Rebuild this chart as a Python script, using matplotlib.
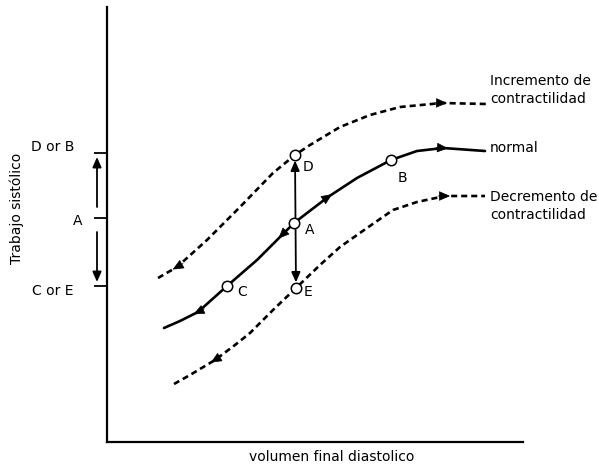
import numpy as np
import matplotlib.pyplot as plt
from matplotlib.patches import FancyArrowPatch

# curve points (arbitrary units)
normal_x = [57, 73, 91, 120, 150, 175, 187, 221, 250, 284, 310, 336, 378]
normal_y = [114, 121, 130, 156, 182, 207, 219, 245, 264, 282, 291, 294, 291]
upper_x = [51, 70, 100, 133, 166, 188, 203, 233, 263, 293, 335, 380]
upper_y = [164, 175, 202, 235, 269, 287, 297, 315, 327, 335, 339, 338]
lower_x = [67, 83, 108, 128, 143, 166, 189, 213, 233, 260, 286, 310, 338, 378]
lower_y = [58, 67, 82, 97, 109, 132, 154, 177, 195, 214, 232, 240, 246, 246]

# arrows on the curves: (index, direction)
normal_arrows = [(2, -1), (5, -1), (7, 1), (11, 1)]
upper_arrows = [(1, -1), (10, 1)]
lower_arrows = [(2, -1), (12, 1)]

# labelled points: name -> (curve, index)
points = {"C": ("normal", 3), "A": ("normal", 6), "B": ("normal", 9),
          "D": ("upper", 5), "E": ("lower", 6)}
point_label_off = {"C": (15, -6), "A": (16, -7), "B": (11, -18),
                   "D": (13, -12), "E": (12, -4)}

ytick_pos = [289, 224, 156]
ytick_labels = ["D or B", "A", "C or E"]
ytick_label_x = [-54, -29, -54]
ytick_label_dy = [6, -3, -5]

right_labels = ["Incremento de\ncontractilidad", "normal",
                "Decremento de\ncontractilidad"]
right_label_y = [352, 294, 236]

curves = {"normal": (normal_x, normal_y), "upper": (upper_x, upper_y),
          "lower": (lower_x, lower_y)}

fig = plt.figure(figsize=(5.99, 4.66), dpi=100)
ax = fig.add_axes([107/599, 24/466, 416/599, 435/466])
ax.set_xlim(0, 416)
ax.set_ylim(0, 435)
ax.spines['top'].set_visible(False)
ax.spines['right'].set_visible(False)
ax.spines['left'].set_linewidth(1.6)
ax.spines['bottom'].set_linewidth(1.6)
ax.set_xticks([])
ax.set_yticks(ytick_pos)
ax.set_yticklabels([])
ax.tick_params(axis='y', direction='out', length=9.5, width=1.3)

plt.rcParams['font.family'] = 'DejaVu Sans'
fs = 10

lw = 1.9
ax.plot(normal_x, normal_y, color='black', lw=lw, solid_capstyle='round',
        solid_joinstyle='round', clip_on=False)
ax.plot(upper_x, upper_y, color='black', lw=lw, dashes=(2.3, 1.5), clip_on=False)
ax.plot(lower_x, lower_y, color='black', lw=lw, dashes=(2.3, 1.5), clip_on=False)


def head(xs, ys, i, d):
    # short arrow along the curve direction at point i
    j = i + d
    vx, vy = xs[j] - xs[i], ys[j] - ys[i]
    n = np.hypot(vx, vy)
    vx, vy = vx / n, vy / n
    tip = (xs[i] + 5 * vx, ys[i] + 5 * vy)
    tail = (xs[i] - 7 * vx, ys[i] - 7 * vy)
    a = FancyArrowPatch(tail, tip, arrowstyle='-|>,head_length=0.5,head_width=0.22',
                        mutation_scale=14, color='black', lw=0.5,
                        shrinkA=0, shrinkB=0)
    ax.add_patch(a)


for i, d in normal_arrows:
    head(normal_x, normal_y, i, d)
for i, d in upper_arrows:
    head(upper_x, upper_y, i, d)
for i, d in lower_arrows:
    head(lower_x, lower_y, i, d)

# vertical double arrow D <-> E
dx, dy = upper_x[5], upper_y[5]
ex, ey = lower_x[6], lower_y[6]
ax.annotate("", xy=(dx, dy), xytext=(ex, ey),
            arrowprops=dict(arrowstyle='<|-|>,head_length=0.5,head_width=0.22',
                            color='black', lw=1.3,
                            mutation_scale=12, shrinkA=4, shrinkB=4))

for name, (c, i) in points.items():
    xs, ys = curves[c]
    ax.plot(xs[i], ys[i], 'o', ms=7.5, mfc='white', mec='black', mew=1.1, zorder=5)
    ox, oy = point_label_off[name]
    ax.text(xs[i] + ox, ys[i] + oy, name, fontsize=fs, ha='center', va='center')

# left side labels and arrows
for y, lab, lx, ldy in zip(ytick_pos, ytick_labels, ytick_label_x, ytick_label_dy):
    ax.text(lx, y + ldy, lab, fontsize=fs, ha='center', va='center', clip_on=False)
larrow = dict(arrowstyle='-|>,head_length=0.5,head_width=0.22', color='black',
              lw=1.3, mutation_scale=12, shrinkA=0, shrinkB=0)
ax.annotate("", xy=(-10, ytick_pos[0] - 4), xytext=(-10, ytick_pos[1] + 11),
            arrowprops=larrow, annotation_clip=False)
ax.annotate("", xy=(-10, ytick_pos[2] + 4), xytext=(-10, ytick_pos[1] - 14),
            arrowprops=larrow, annotation_clip=False)

for lab, y in zip(right_labels, right_label_y):
    ax.text(383, y, lab, fontsize=fs, ha='left', va='center', linespacing=1.45,
            clip_on=False)

ax.text(225, -15, "volumen final diastolico", fontsize=fs, ha='center', va='center',
        clip_on=False)
ax.text(-90, 234, "Trabajo sistólico", fontsize=fs, ha='center', va='center',
        rotation=90, clip_on=False)

fig.savefig("out.png", dpi=100)
